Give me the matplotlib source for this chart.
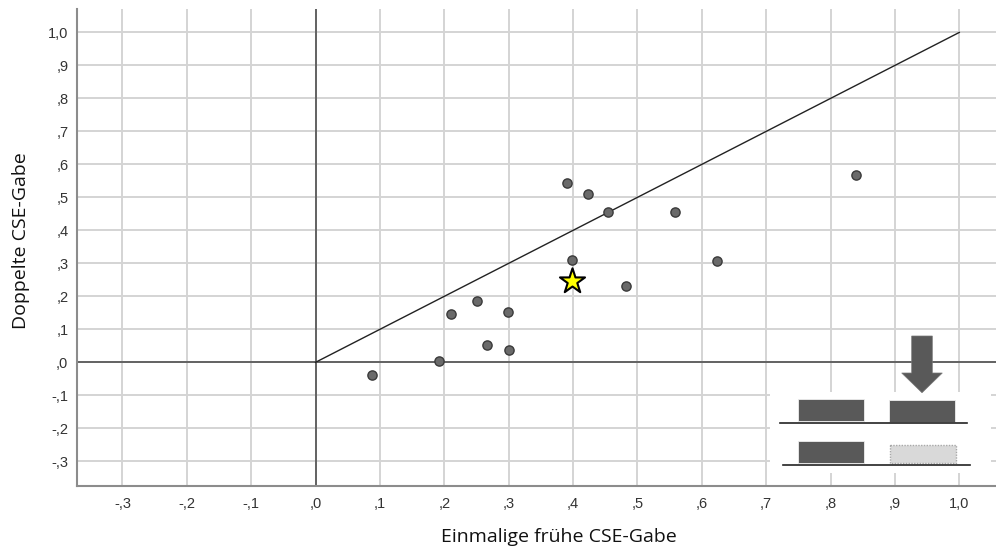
import numpy as np
import matplotlib
matplotlib.use('Agg')
import matplotlib.pyplot as plt
from matplotlib.patches import Rectangle, Polygon
from matplotlib.ticker import FuncFormatter

plt.rcParams['font.family'] = ['Liberation Sans', 'DejaVu Sans']

# single early CSE dose (x) vs double CSE dose (y)
single_dose = [0.390, 0.423, 0.454, 0.559, 0.399, 0.482, 0.251, 0.211,
               0.299, 0.267, 0.300, 0.192, 0.087, 0.623, 0.840]
double_dose = [0.544, 0.510, 0.456, 0.456, 0.310, 0.230, 0.187, 0.146,
               0.152, 0.053, 0.037, 0.005, -0.038, 0.306, 0.568]

# highlighted case (star)
star_x = [0.398]
star_y = [0.246]

# identity line
ref_x = [0.0, 1.0]
ref_y = [0.0, 1.0]

x_ticks = np.round(np.arange(-0.3, 1.01, 0.1), 1)
y_ticks = np.round(np.arange(-0.3, 1.01, 0.1), 1)


def spss_fmt(v, pos=None):
    s = '%.1f' % v
    if s in ('-0.0', '0.0'):
        return ',0'
    s = s.replace('0.', '.').replace('.', ',')
    return s


W, H = 996, 547
fig = plt.figure(figsize=(W / 100, H / 100), dpi=100)
ax = fig.add_axes([76.7 / W, 1 - 485.7 / H, (996 - 76.7) / W, (485.7 - 9) / H])

ax.set_xlim(-0.371, 1.057)
ax.set_ylim(-0.374, 1.071)
ax.set_xticks(x_ticks)
ax.set_yticks(y_ticks)
ax.xaxis.set_major_formatter(FuncFormatter(spss_fmt))
ax.yaxis.set_major_formatter(FuncFormatter(spss_fmt))
ax.tick_params(length=0, labelsize=10.5, labelcolor='#333333')
ax.tick_params(axis='x', pad=8)
ax.tick_params(axis='y', pad=6)

ax.grid(True, color='#d4d4d4', linewidth=1.4)
ax.set_axisbelow(True)
for side in ['top', 'right']:
    ax.spines[side].set_visible(False)
for side in ['left', 'bottom']:
    ax.spines[side].set_color('#8c8c8c')
    ax.spines[side].set_linewidth(1.5)

ax.axhline(0, color='#5a5a5a', linewidth=1.3, zorder=1)
ax.axvline(0, color='#5a5a5a', linewidth=1.3, zorder=1)

ax.plot(ref_x, ref_y, color='#222222', linewidth=1.0, zorder=2)

ax.scatter(single_dose, double_dose, s=44, facecolor='#6a6a6a',
           edgecolor='#3a3a3a', linewidth=1.0, zorder=3)
ax.scatter(star_x, star_y, s=360, marker='*', facecolor='#ffff00',
           edgecolor='black', linewidth=1.5, zorder=4)

ax.set_xlabel('Einmalige frühe CSE-Gabe', family=['Open Sans', 'DejaVu Sans'],
              fontsize=14, color='#111111', va='baseline')
ax.xaxis.set_label_coords((559 - 76.7) / (996 - 76.7), -(541.7 - 485.7) / (485.7 - 9))
ax.set_ylabel('Doppelte CSE-Gabe', family=['Open Sans', 'DejaVu Sans'],
              fontsize=14, color='#111111')
ax.yaxis.set_label_coords(-(76.7 - 30) / (996 - 76.7), (485.7 - 241) / (485.7 - 9))

# schematic inset (pixel coordinates of the figure)
box = (770, 991, 330, 473)
ins = fig.add_axes([box[0] / W, 1 - box[3] / H, (box[1] - box[0]) / W, (box[3] - box[2]) / H])
ins.set_xlim(box[0], box[1])
ins.set_ylim(box[3], box[2])
ins.axis('off')
ins.patch.set_alpha(0)

dark = '#595959'
ins.add_patch(Rectangle((770, 392), 221, 81, facecolor='white', edgecolor='none'))
ins.add_patch(Polygon([(911.7, 336), (932.3, 336), (932.3, 373), (942.3, 373),
                       (922, 392.7), (901.7, 373), (911.7, 373)],
                      closed=True, facecolor=dark, edgecolor='#777777', linewidth=0.5))
ins.add_patch(Rectangle((797.7, 399.3), 66.6, 21.4, facecolor=dark, edgecolor='#eeeeee', linewidth=0.6))
ins.add_patch(Rectangle((888.7, 400.3), 66.6, 22.0, facecolor=dark, edgecolor='#eeeeee', linewidth=0.6))
ins.plot([780, 967.3], [423, 423], color='#222222', linewidth=1.2)
ins.add_patch(Rectangle((797.7, 441.3), 66.6, 22.0, facecolor=dark, edgecolor='#eeeeee', linewidth=0.6))
ins.add_patch(Rectangle((890.3, 445), 65.7, 18.3, facecolor='#d9d9d9', edgecolor='#a8a8a8',
                        linewidth=1.0, linestyle=(0, (1, 1))))
ins.plot([782.7, 970], [465.3, 465.3], color='#222222', linewidth=1.2)

fig.savefig('out.png', dpi=100)
